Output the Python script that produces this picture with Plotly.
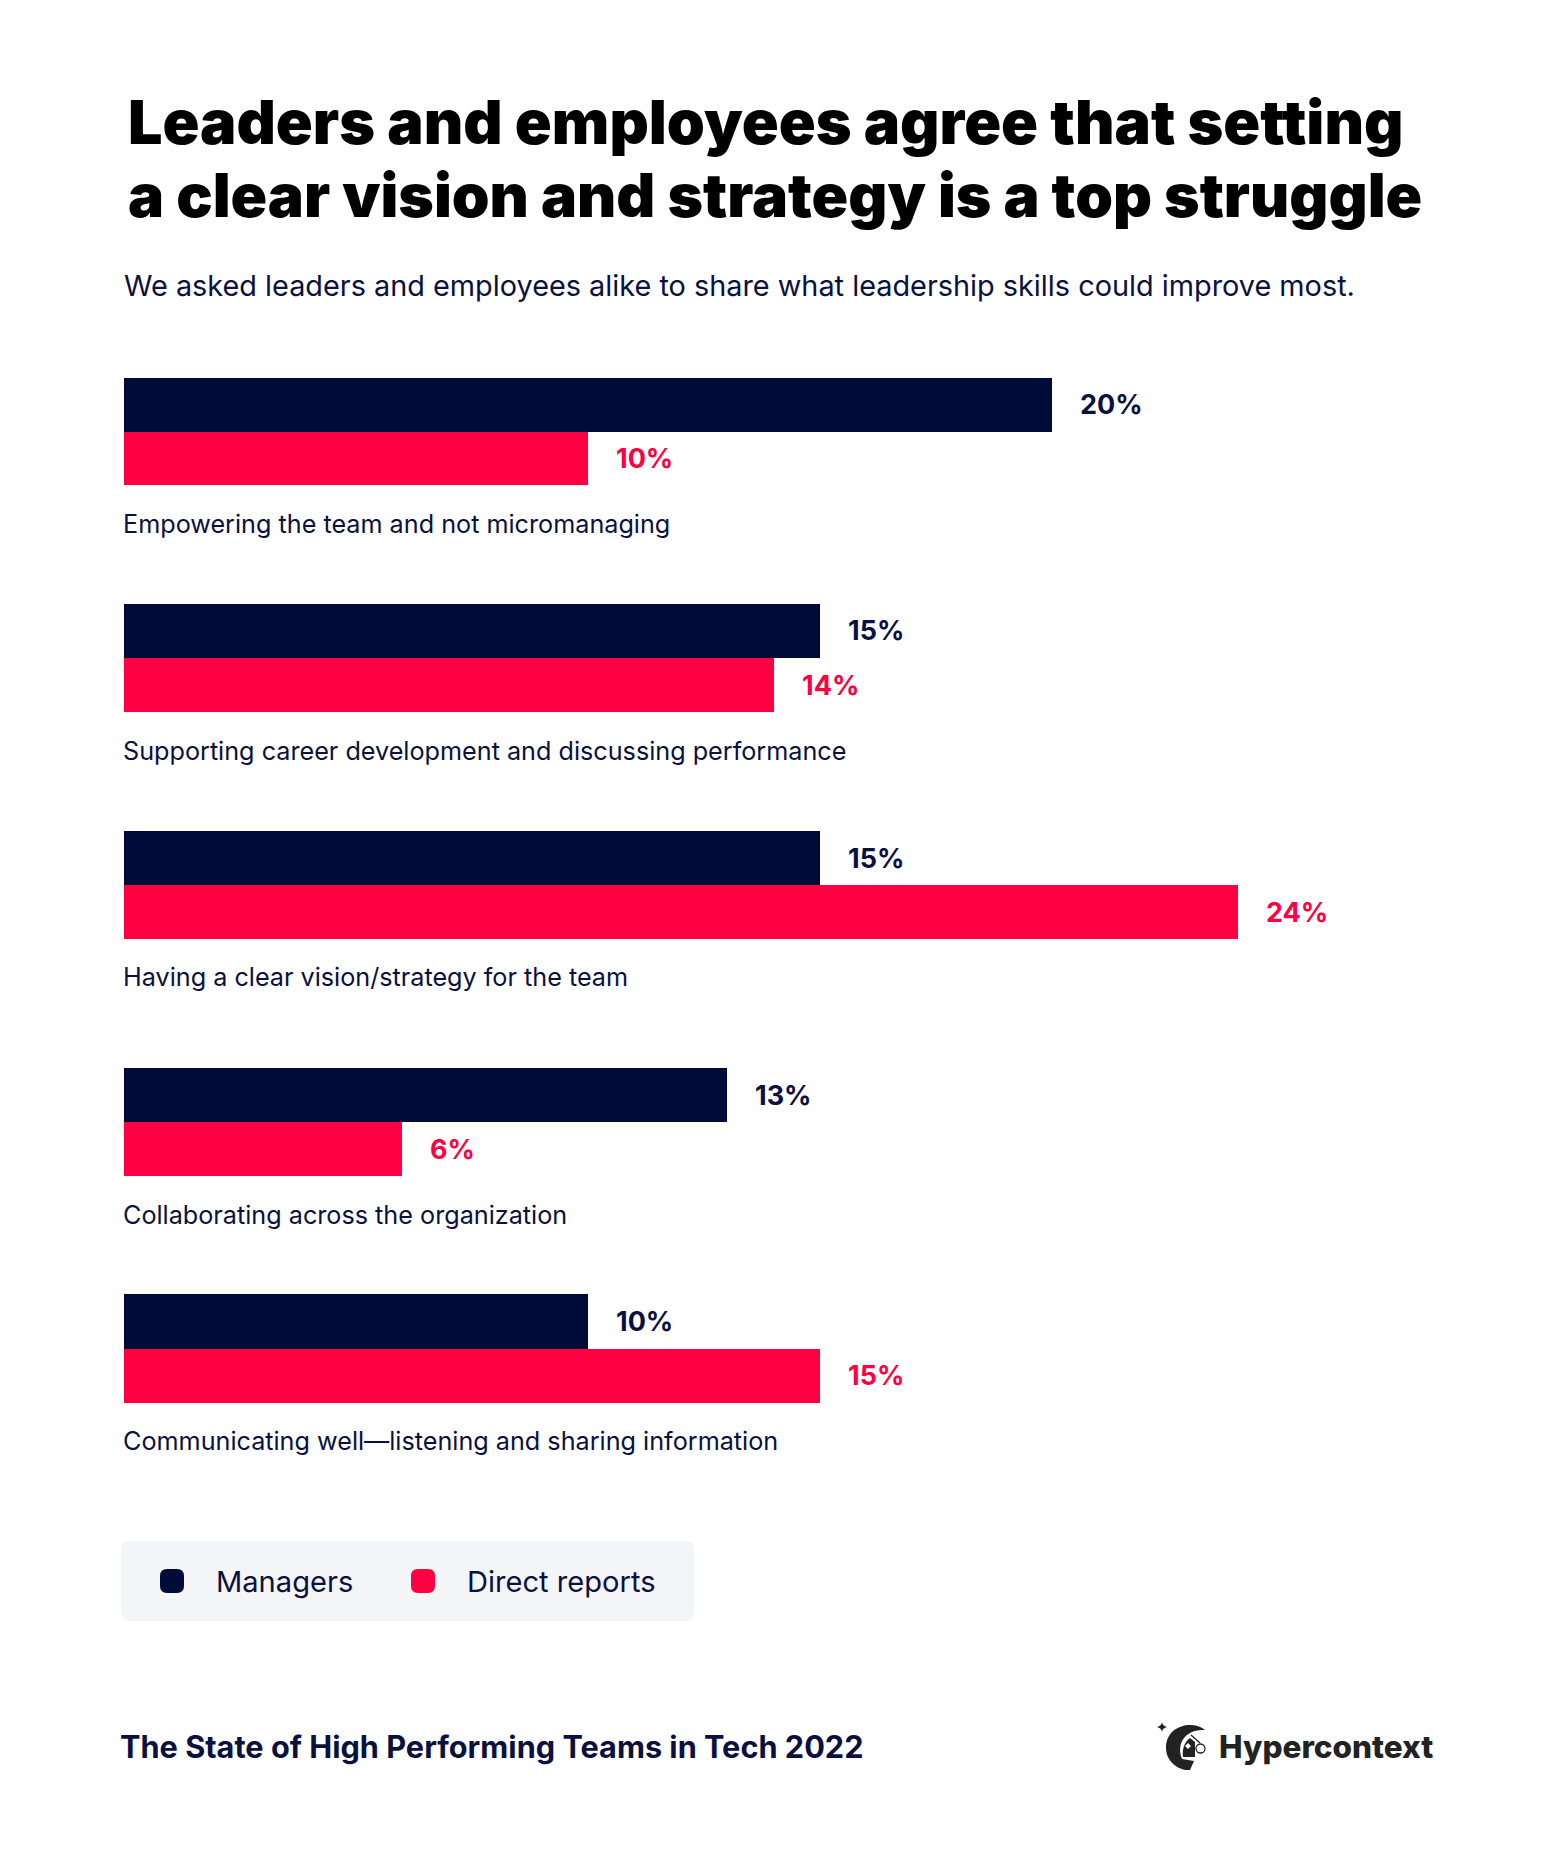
import plotly.graph_objects as go

categories = [
    "Empowering the team and not micromanaging",
    "Supporting career development and discussing performance",
    "Having a clear vision/strategy for the team",
    "Collaborating across the organization",
    "Communicating well—listening and sharing information",
]
managers = [20, 15, 15, 13, 10]
direct_reports = [10, 14, 24, 6, 15]

title_lines = [
    "Leaders and employees agree that setting",
    "a clear vision and strategy is a top struggle",
]
subtitle = "We asked leaders and employees alike to share what leadership skills could improve most."
footer = "The State of High Performing Teams in Tech 2022"
brand = "Hypercontext"
series_names = ["Managers", "Direct reports"]

W, H = 1552, 1857
NAVY = "#000B38"
RED = "#FF0042"
TEXT = "#0A1140"
LOGO = "#222222"
FONT = "Inter"

# pixel layout of the five bar groups (top, bottom) and their labels
group_px = [(378, 485), (604, 712), (831, 939), (1068, 1176), (1294, 1403)]
label_y_px = [524, 751, 977, 1215, 1441]
bar_left = 124
px_per_pct = 46.4


def px(x):
    return x / W


def py(y):
    return 1 - y / H


def note(text, x, y, size, color=TEXT, weight=400):
    fig.add_annotation(
        text=text, x=px(x), y=py(y), xref="paper", yref="paper",
        xanchor="left", yanchor="middle", showarrow=False,
        font=dict(family=FONT, size=size, color=color, weight=weight))


def rounded(x0, y0, x1, y1, r):
    x0, x1 = px(x0), px(x1)
    y0, y1 = py(y0), py(y1)
    rx, ry = r / W, r / H
    return (f"M{x0+rx},{y0} L{x1-rx},{y0} Q{x1},{y0} {x1},{y0-ry} L{x1},{y1+ry} Q{x1},{y1} {x1-rx},{y1} "
            f"L{x0+rx},{y1} Q{x0},{y1} {x0},{y1+ry} L{x0},{y0-ry} Q{x0},{y0} {x0+rx},{y0} Z")


def pixel_path(points):
    # points are (command, x, y, ...) in page pixels
    out = []
    for p in points:
        cmd, nums = p[0], p[1:]
        xy = []
        for i in range(0, len(nums), 2):
            xy.append(f"{px(nums[i])},{py(nums[i+1])}")
        out.append(cmd + " ".join(xy))
    return " ".join(out) + " Z"


def logo_shape(points, fill=LOGO):
    fig.add_shape(type="path", xref="paper", yref="paper", fillcolor=fill, line_width=0,
                  path=pixel_path(points))


fig = go.Figure()

layout_axes = {}
for i, (top, bottom) in enumerate(group_px):
    name = "y" if i == 0 else f"y{i+1}"
    fig.add_trace(go.Bar(x=[managers[i]], y=[categories[i]], orientation="h", name=series_names[0],
                         marker=dict(color=NAVY, line_width=0), xaxis="x", yaxis=name, showlegend=False))
    fig.add_trace(go.Bar(x=[direct_reports[i]], y=[categories[i]], orientation="h", name=series_names[1],
                         marker=dict(color=RED, line_width=0), xaxis="x", yaxis=name, showlegend=False))
    layout_axes["yaxis" if i == 0 else f"yaxis{i+1}"] = dict(
        domain=[py(bottom), py(top)], anchor="x", type="category", autorange="reversed",
        visible=False, fixedrange=True)

fig.update_layout(
    width=W, height=H, margin=dict(l=0, r=0, t=0, b=0),
    paper_bgcolor="white", plot_bgcolor="white",
    barmode="group", bargap=0, bargroupgap=0, showlegend=False,
    xaxis=dict(domain=[px(bar_left), 1], range=[0, (W - bar_left) / px_per_pct], visible=False, fixedrange=True),
    **layout_axes,
)

note(title_lines[0], 126, 122, 61, color="#000000", weight=900)
note(title_lines[1], 126, 195, 60.5, color="#000000", weight=900)
note(subtitle, 122, 286, 28.85)

for i, (top, bottom) in enumerate(group_px):
    mid = (top + bottom) / 2
    fig.add_annotation(text=f"{managers[i]}%", x=managers[i], xref="x", y=py((top + mid) / 2), yref="paper",
                       xshift=26, xanchor="left", yanchor="middle", showarrow=False,
                       font=dict(family=FONT, size=27, color=TEXT, weight=700))
    fig.add_annotation(text=f"{direct_reports[i]}%", x=direct_reports[i], xref="x", y=py((mid + bottom) / 2), yref="paper",
                       xshift=26, xanchor="left", yanchor="middle", showarrow=False,
                       font=dict(family=FONT, size=27, color=RED, weight=700))
    note(categories[i], bar_left - 3, label_y_px[i], 25.2)

# legend panel
fig.add_shape(type="path", path=rounded(121, 1541, 694, 1621, 9), xref="paper", yref="paper",
              fillcolor="#F4F5F7", line_width=0, layer="below")
fig.add_shape(type="path", path=rounded(160, 1569, 184, 1593, 7), xref="paper", yref="paper",
              fillcolor=NAVY, line_width=0)
fig.add_shape(type="path", path=rounded(411, 1569, 435, 1593, 7), xref="paper", yref="paper",
              fillcolor=RED, line_width=0)
note(series_names[0], 213.5, 1581, 29.1)
note(series_names[1], 464.5, 1581, 29.1)

note(footer, 118, 1746, 30.7, weight=700)
note(brand, 1216.5, 1746, 31.5, color=LOGO, weight=800)

# logo: star, crescent, figure inside it
logo_shape([("M", 1162, 1722), ("Q", 1162.5, 1726, 1167, 1727), ("Q", 1162.5, 1728, 1162, 1732),
            ("Q", 1161.5, 1728, 1157, 1727), ("Q", 1161.5, 1726, 1162, 1722)])
logo_shape([("M", 1205, 1730), ("C", 1193, 1720, 1166, 1725, 1166, 1748),
            ("C", 1166, 1761, 1178, 1771, 1190, 1770), ("L", 1194, 1761), ("L", 1182, 1759),
            ("C", 1178, 1750, 1180, 1738, 1190, 1733), ("C", 1195, 1730, 1200, 1730, 1205, 1730)])
logo_shape([("M", 1190, 1738), ("L", 1195, 1742), ("L", 1195, 1757), ("L", 1183, 1757),
            ("C", 1182, 1750, 1184, 1742, 1190, 1738)])
logo_shape([("M", 1188, 1743), ("L", 1191, 1746), ("L", 1188, 1749), ("L", 1185, 1746), ("L", 1188, 1743)], fill="white")
fig.add_shape(type="circle", xref="paper", yref="paper", x0=px(1196), x1=px(1205), y0=py(1753), y1=py(1744),
              line=dict(color=LOGO, width=1.3), fillcolor="white")
fig.add_shape(type="line", xref="paper", yref="paper", x0=px(1191), y0=py(1735), x1=px(1200), y1=py(1743),
              line=dict(color=LOGO, width=1.3))

fig.write_html("out.html", post_script="document.body.style.margin='0';",
               config={"displayModeBar": False})
